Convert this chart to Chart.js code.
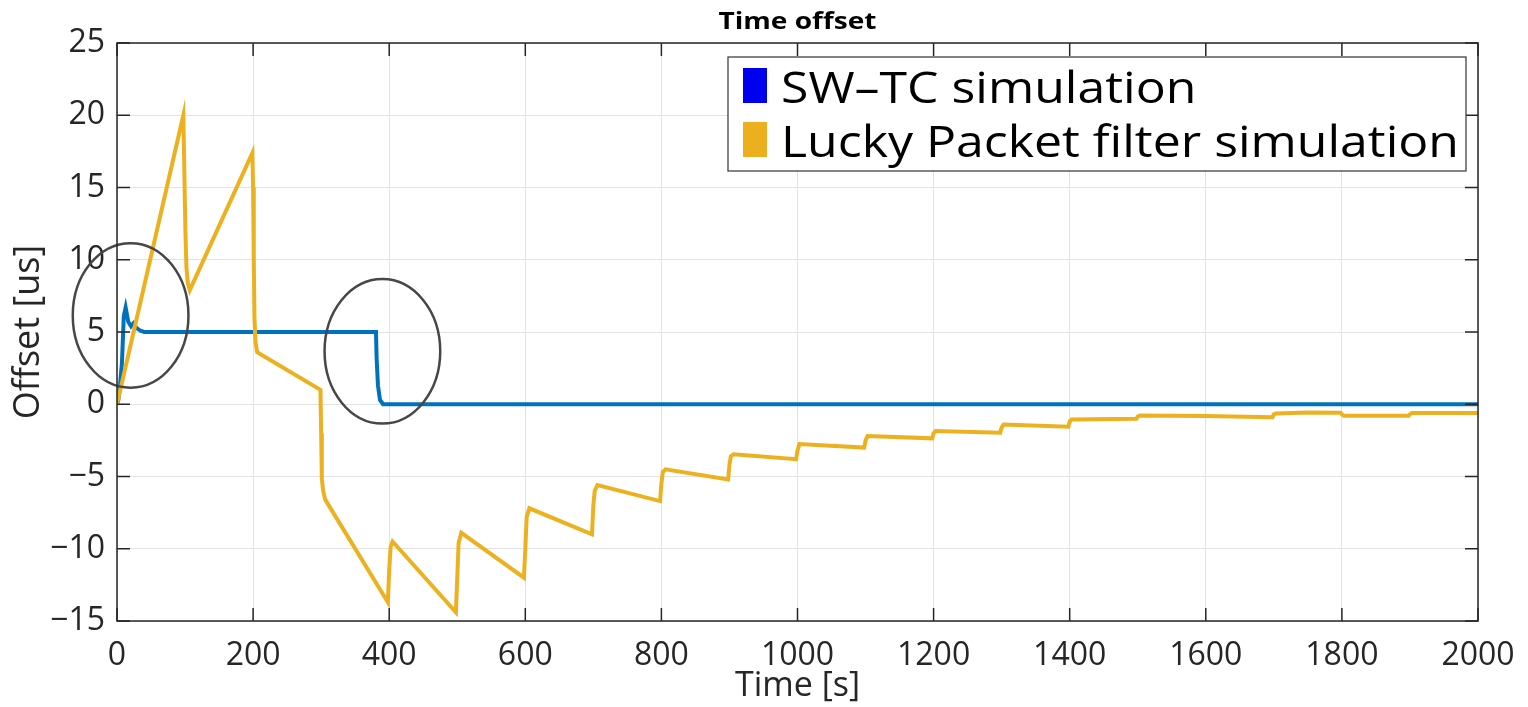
<!DOCTYPE html>
<html>
<head>
<meta charset="utf-8">
<script src="https://cdn.jsdelivr.net/npm/chart.js@4.4.0/dist/chart.umd.min.js"></script>
<style>
html, body { margin: 0; padding: 0; background: #fff; }
canvas { display: block; }
</style>
</head>
<body>
<canvas id="offsetChart" width="1528" height="707"></canvas>
<script>
// SW-TC simulation (blue)
var swtcTime   = [0, 2, 4.4, 7.3, 10, 12.7, 16.6, 20.6, 24, 28, 34, 40, 380.6, 381.5, 383.5, 386.5, 391, 2000];
var swtcOffset = [0, 0.3, 1.3, 2.9, 6.1, 6.7, 5.7, 5.4, 5.6, 5.3, 5.1, 5.0, 5.0, 3.2, 1.3, 0.3, 0, 0];

// Lucky Packet filter simulation (orange)
var lpfTime = [0, 97.5, 99, 100.5, 102, 104, 107, 199, 200, 201, 202, 203.5, 206, 299, 300, 301, 303, 306,
  398, 400, 402, 405, 498, 500, 502, 506, 598, 600, 602, 606, 698, 700, 702, 706, 798, 800, 802, 806,
  898, 900, 902, 906, 998, 1000, 1003, 1098, 1100, 1103, 1198, 1200, 1203, 1298, 1300, 1303,
  1398, 1400, 1403, 1498, 1500, 1503, 1598, 1698, 1700, 1703, 1750, 1798, 1800, 1803, 1898, 1900, 1903, 2000];
var lpfOffset = [0, 20, 16, 12, 9.5, 8.4, 7.9, 17.4, 15, 10, 6, 4.3, 3.6, 1.0, -2.0, -5.2, -6.0, -6.6,
  -13.7, -11.5, -9.9, -9.5, -14.4, -12, -9.6, -8.9, -12.0, -10, -7.8, -7.2, -9.0, -7.0, -6.0, -5.6, -6.7, -5.5, -4.7, -4.5,
  -5.2, -4.2, -3.6, -3.46, -3.8, -3.2, -2.75, -3.0, -2.5, -2.2, -2.36, -2.0, -1.85, -1.97, -1.6, -1.4,
  -1.55, -1.2, -1.05, -1.0, -0.85, -0.78, -0.82, -0.9, -0.7, -0.64, -0.57, -0.58, -0.7, -0.8, -0.8, -0.7, -0.6, -0.6];

// highlighted regions (ellipses), in data units
var markTime = [20, 390];
var markOffset = [6.15, 3.66];
var markHalfTime = 85;
var markHalfOffset = 5;

var seriesLabels = ['SW\u2013TC simulation', 'Lucky Packet filter simulation'];
var legendPatch = ['#0000f0', '#ecb01f'];

function toPoints(xs, ys) {
    var pts = [];
    for (var i = 0; i < xs.length; i++) pts.push({x: xs[i], y: ys[i]});
    return pts;
}

var textCol = '#262626';

var matlabExtras = {
    id: 'matlabExtras',
    afterDatasetsDraw: function(chart) {
        var ctx = chart.ctx, a = chart.chartArea;
        var xs = chart.scales.x, ys = chart.scales.y;
        ctx.save();

        // ellipses
        ctx.strokeStyle = '#474747';
        ctx.lineWidth = 2.5;
        for (var i = 0; i < markTime.length; i++) {
            var cx = xs.getPixelForValue(markTime[i]);
            var cy = ys.getPixelForValue(markOffset[i]);
            var rx = xs.getPixelForValue(markTime[i] + markHalfTime) - cx;
            var ry = cy - ys.getPixelForValue(markOffset[i] + markHalfOffset);
            ctx.beginPath();
            ctx.ellipse(cx, cy, rx, ry, 0, 0, Math.PI * 2);
            ctx.stroke();
        }

        // box + inward ticks
        ctx.strokeStyle = textCol;
        ctx.lineWidth = 1.5;
        ctx.strokeRect(a.left, a.top, a.right - a.left, a.bottom - a.top);
        var tl = 13;
        ctx.beginPath();
        xs.ticks.forEach(function(t) {
            var px = xs.getPixelForValue(t.value);
            ctx.moveTo(px, a.bottom); ctx.lineTo(px, a.bottom - tl);
            ctx.moveTo(px, a.top); ctx.lineTo(px, a.top + tl);
        });
        ys.ticks.forEach(function(t) {
            var py = ys.getPixelForValue(t.value);
            ctx.moveTo(a.left, py); ctx.lineTo(a.left + tl, py);
            ctx.moveTo(a.right, py); ctx.lineTo(a.right - tl, py);
        });
        ctx.stroke();

        // title
        ctx.fillStyle = '#000';
        ctx.font = 'bold 24px "Open Sans"';
        ctx.textAlign = 'center';
        ctx.textBaseline = 'middle';
        var tw = ctx.measureText('Time offset').width;
        ctx.save();
        ctx.translate((a.left + a.right) / 2, 22);
        ctx.scale(158 / tw, 1);
        ctx.fillText('Time offset', 0, 0);
        ctx.restore();

        // legend
        var boxR = a.right - 12, boxT = a.top + 14, boxB = a.top + 128;
        var boxL = 728;
        ctx.fillStyle = '#fff';
        ctx.fillRect(boxL, boxT, boxR - boxL, boxB - boxT);
        ctx.lineWidth = 1.2;
        ctx.strokeStyle = '#333';
        ctx.strokeRect(boxL, boxT, boxR - boxL, boxB - boxT);
        ctx.font = '44px "Open Sans"';
        ctx.textAlign = 'left';
        ctx.textBaseline = 'alphabetic';
        var longest = ctx.measureText(seriesLabels[1]).width;
        var sx = 678 / longest;
        var baselines = [boxT + 46, boxT + 100];
        for (var k = 0; k < seriesLabels.length; k++) {
            ctx.fillStyle = legendPatch[k];
            ctx.fillRect(boxL + 15, baselines[k] - 35, 24, 35);
            ctx.save();
            ctx.translate(boxL + 53, baselines[k]);
            ctx.scale(sx, 1);
            ctx.fillStyle = '#000';
            ctx.fillText(seriesLabels[k], 0, 0);
            ctx.restore();
        }
        ctx.restore();
    }
};

var ctx = document.getElementById('offsetChart').getContext('2d');
var offsetChart = new Chart(ctx, {
    type: 'line',
    data: {
        datasets: [{
            label: seriesLabels[0],
            data: toPoints(swtcTime, swtcOffset),
            borderColor: '#0072bd',
            borderWidth: 4,
            pointRadius: 0,
            tension: 0,
            order: 1
        }, {
            label: seriesLabels[1],
            data: toPoints(lpfTime, lpfOffset),
            borderColor: '#edb120',
            borderWidth: 4,
            pointRadius: 0,
            tension: 0,
            order: 0
        }]
    },
    options: {
        responsive: false,
        animation: false,
        layout: { padding: { top: 43, right: 50, left: 0, bottom: 0 } },
        plugins: {
            legend: { display: false },
            title: { display: false },
            tooltip: { enabled: false }
        },
        scales: {
            x: {
                type: 'linear',
                min: 0, max: 2000,
                ticks: {
                    stepSize: 200,
                    color: textCol,
                    padding: 16,
                    maxRotation: 0,
                    font: { family: 'Open Sans', size: 32 },
                    callback: function(v) { return String(v); }
                },
                grid: { color: '#e2e2e2', lineWidth: 1, drawTicks: false },
                border: { display: false },
                title: {
                    display: true, text: 'Time [s]', color: textCol, padding: 0,
                    font: { family: 'Open Sans', size: 34 }
                },
                afterFit: function(s) {
                    s.height = 86;
                    s.paddingLeft = 0;
                    s.paddingRight = 0;
                }
            },
            y: {
                min: -15, max: 25,
                ticks: {
                    stepSize: 5,
                    color: textCol,
                    padding: 12,
                    font: { family: 'Open Sans', size: 32 },
                    callback: function(v) { return String(v).replace('-', '\u2212'); }
                },
                grid: { color: '#e2e2e2', lineWidth: 1, drawTicks: false },
                border: { display: false },
                title: {
                    display: true, text: 'Offset [us]', color: textCol, padding: 7,
                    font: { family: 'Open Sans', size: 36 }
                },
                afterFit: function(s) {
                    s.width = 117;
                    s.paddingTop = 0;
                    s.paddingBottom = 0;
                }
            }
        }
    },
    plugins: [matlabExtras]
});
</script>
</body>
</html>
